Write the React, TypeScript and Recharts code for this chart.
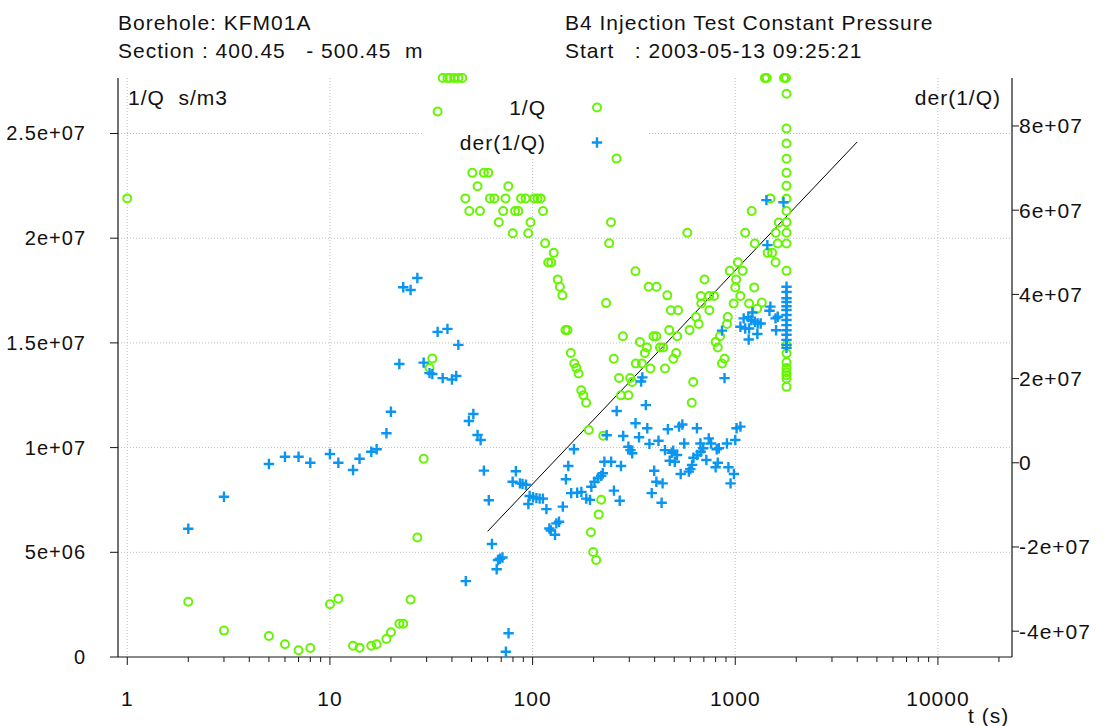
import React from 'react';
import { ComposedChart, Scatter, XAxis, YAxis, CartesianGrid, ReferenceArea, Legend } from 'recharts';

const FONT = '"Liberation Sans", Arial, Helvetica, sans-serif';
const GREEN = '#66F500';
const BLUE = '#0A96F0';
const AXIS = '#151515';
const TEXT = '#111111';

// ---- 1/Q series (time in s, value in millions of s/m3) ----
const invQTime = [
  1, 2, 3, 5, 6, 7, 8, 10, 11, 13,
  14, 16, 17, 19, 20, 22, 23, 25, 27, 29,
  31, 32, 34, 36, 38, 39, 41, 43, 45, 46.6,
  48.7, 50.4, 53.5, 55, 57.5, 60.4, 61.6, 64.7, 68.1, 71.6,
  73.5, 75.9, 79.8, 81.9, 85, 87.7, 92.3, 95.2, 97.7, 101.8,
  105.7, 109.6, 112.6, 115.2, 119.4, 123.6, 127.1, 133.1, 136.3, 140.3,
  145.3, 148.7, 154.4, 160.6, 164.6, 168.5, 173.8, 178, 183.6, 189.4,
  194, 199, 206, 212, 218, 223, 230.6, 238.6, 243.7, 251.5,
  259.6, 267, 273, 279, 297, 303, 310, 321.7, 323, 338.5,
  346, 358, 366.7, 374, 381, 395, 408, 409, 425, 441,
  450, 462, 472, 481, 495, 511, 517, 522, 580, 595,
  610, 620, 640, 660, 676, 680, 705, 743, 745, 786,
  800, 820, 841, 860, 885, 910, 918, 940, 982, 1000,
  1010, 1030, 1060, 1087, 1119, 1170, 1205, 1240, 1249, 1282,
  1351, 1400, 1430, 1445, 1490, 1520, 1580, 1583, 1620, 1640,
  1740, 1780, 1790, 1790, 1790, 1790, 1790, 1790, 1790, 1790,
  1790, 1790, 1790, 1790, 1790, 1790, 1790, 1790, 1790, 1790,
  1790, 1790,
];
const invQValueMillions = [
  21.9, 2.64, 1.26, 1.0, 0.61, 0.32, 0.43, 2.52, 2.78, 0.54,
  0.44, 0.54, 0.61, 0.86, 1.18, 1.59, 1.59, 2.74, 5.71, 9.47,
  13.8, 14.26, 26.05, 27.65, 27.65, 27.65, 27.65, 27.65, 27.65, 21.9,
  21.3, 23.12, 22.48, 21.3, 23.12, 23.12, 21.9, 21.9, 20.76, 21.3,
  21.9, 22.48, 20.24, 21.3, 21.3, 21.9, 21.9, 20.24, 20.76, 21.9,
  21.9, 21.9, 21.3, 19.76, 18.84, 18.84, 19.3, 18.03, 17.68, 17.27,
  15.61, 15.61, 14.52, 14.02, 13.8, 13.54, 12.74, 12.5, 12.14, 10.84,
  5.96, 5.01, 4.63, 6.81, 7.51, 10.57, 16.9, 19.76, 20.76, 14.24,
  23.8, 13.32, 12.5, 15.32, 12.5, 13.32, 13.13, 18.42, 14.02, 15.04,
  14.02, 14.52, 14.78, 17.68, 13.78, 15.32, 15.32, 17.68, 14.78, 14.78,
  13.78, 17.27, 15.61, 16.56, 14.24, 14.52, 15.32, 16.56, 20.26, 15.61,
  12.14, 13.13, 16.24, 15.9, 17.24, 16.88, 18.03, 17.24, 16.56, 17.24,
  15.04, 14.78, 15.32, 14.02, 14.24, 15.9, 16.24, 18.44, 16.88, 17.65,
  18.03, 18.85, 17.24, 18.44, 20.26, 16.88, 21.3, 17.65, 19.75, 16.63,
  16.93, 27.65, 27.65, 19.3, 21.9, 19.3, 18.85, 20.26, 19.75, 20.75,
  27.65, 27.65, 26.9, 25.24, 24.52, 23.79, 23.12, 22.5, 21.88, 21.3,
  20.76, 20.26, 19.75, 18.44, 14.9, 14.5, 14.07, 13.8, 13.6, 13.46,
  13.3, 12.9,
];

// ---- der(1/Q) series (time in s, value in millions) ----
const derTime = [
  2, 3, 5, 6, 7, 8, 10, 11, 13, 14,
  16, 17, 19, 20, 22, 23, 25, 27, 29, 31,
  32, 34, 36, 38, 40, 42, 43, 46.8, 48.5, 51,
  53.5, 55.4, 57.5, 60.8, 63, 66.5, 67.5, 69, 71, 73.8,
  76.1, 79.7, 82.7, 86.6, 89.2, 92.7, 95.3, 96.7, 100.5, 104.4,
  108.3, 112.4, 117, 121, 123, 129, 131, 135, 141, 146,
  150, 155, 160, 166, 174, 184, 192, 195, 202, 210,
  218, 222, 226, 232, 244, 252, 260, 269, 273, 280,
  297, 304, 310, 322, 335, 343, 348, 362, 368, 377,
  387, 398, 408, 418, 433, 438, 450, 465, 475, 486,
  494, 503, 516, 528, 538, 548, 560, 590, 600, 612,
  622, 647, 650, 673, 675, 695, 720, 740, 760, 800,
  810, 820, 830, 860, 885, 910, 925, 948, 985, 1000,
  1015, 1060, 1060, 1100, 1120, 1160, 1165, 1170, 1200, 1215,
  1250, 1285, 1290, 1335, 1425, 1440, 1475, 1490, 1580, 1590,
  1620, 1730, 1790, 1790, 1790, 1790, 1790, 1790, 1790, 1790,
  1790, 1790, 1790, 1790, 1790, 1790,
];
const derValueMillions = [
  -15.65, -8.05, -0.29, 1.45, 1.45, 0.02, 2.09, 0.02, -1.71, 0.97,
  2.64, 3.2, 7.0, 12.14, 23.47, 41.7, 41.05, 43.9, 23.8, 21.3,
  21.1, 31.1, 20.1, 31.8, 19.8, 20.6, 28.0, -28.1, 9.93, 11.6,
  6.6, 5.42, -1.87, -8.9, -19.3, -25.3, -23.1, -22.8, -22.5, -44.9,
  -40.5, -4.5, -2.0, -4.9, -5.0, -5.2, -9.8, -7.9, -8.2, -8.4,
  -8.5, -8.5, -11.0, -15.6, -16.1, -17.1, -14.4, -14.0, -10.4, -3.9,
  -0.76, -7.2, 3.2, -7.1, -6.9, -8.5, -8.8, -5.7, -4.5, -3.7,
  -3.1, -2.5, 0.26, 6.53, 0.26, -6.6, 12.3, -9.0, -0.76, 6.37,
  3.8, 3.0, 2.25, 9.4, 6.05, 19.3, 20.3, 13.7, 8.2, 4.5,
  -7.2, -1.88, -4.5, 5.25, -9.5, -4.9, 3.0, 7.96, 0.5, 2.4,
  2.87, 0.26, 1.85, 8.6, -2.66, 9.1, 4.6, -2.1, -1.5, -0.5,
  1.2, 8.2, 1.85, 4.6, 2.64, 3.45, 0.66, 5.8, 4.6, -1.07,
  3.2, 0.02, 3.45, 31.4, 20.1, 4.6, -1.07, -4.9, -2.66, 5.4,
  8.2, 8.6, 32.3, 34.3, 31.9, 34.6, 29.3, 31.9, 33.9, 35.7,
  33.5, 30.6, 33.1, 33.1, 62.4, 51.7, 36.1, 37.1, 34.3, 31.5,
  34.7, 61.9, 41.8, 40.6, 39.1, 38.2, 37.2, 36.3, 35.1, 33.9,
  32.7, 31.5, 30.4, 29.2, 28.0, 27.3,
];

// ---- straight-line fit (left axis) ----
const fitTime = [60, 4000];
const fitValueMillions = [6.0, 24.6];

// ---- axes ----
const xDomain = [0.9, 23200];
const xMajorTicks = [1, 10, 100, 1000, 10000];
const xMajorLabels = ['1', '10', '100', '1000', '10000'];
const xAllTicks = [
  1, 2, 3, 4, 5, 6, 7, 8, 9,
  10, 20, 30, 40, 50, 60, 70, 80, 90,
  100, 200, 300, 400, 500, 600, 700, 800, 900,
  1000, 2000, 3000, 4000, 5000, 6000, 7000, 8000, 9000,
  10000, 20000,
];
const leftDomain = [0, 2.765e7];
const leftTicks = [0, 5e6, 1e7, 1.5e7, 2e7, 2.5e7];
const leftTickLabels = ['0', '5e+06', '1e+07', '1.5e+07', '2e+07', '2.5e+07'];
const leftGridValues = [5e6, 1e7, 1.5e7, 2e7, 2.5e7];
const rightDomain = [-4.613e7, 9.14e7];
const rightTicks = [-4e7, -2e7, 0, 2e7, 4e7, 6e7, 8e7];
const rightTickLabels = ['-4e+07', '-2e+07', '0', '2e+07', '4e+07', '6e+07', '8e+07'];

// legend panel (white box behind the legend, in data coordinates)
const legendBoxTime = [28.4, 366];
const legendBoxValue = [2.382e7, 2.765e7];

const M = 1e6;
const invQData = invQTime.map((t, i) => ({ x: t, y: invQValueMillions[i] * M }));
const derData = derTime.map((t, i) => ({ x: t, y: derValueMillions[i] * M }));
const fitData = fitTime.map((t, i) => ({ x: t, y: fitValueMillions[i] * M }));

const textStyle = { fontFamily: FONT, fontSize: 20, fill: TEXT, letterSpacing: 1 } as any;
const bigTextStyle = { fontFamily: FONT, fontSize: 21, fill: TEXT, letterSpacing: 1, whiteSpace: 'pre' } as any;

const BottomTick = (props: any) => {
  const { x, y, payload } = props;
  const idx = xMajorTicks.indexOf(payload.value);
  const major = idx >= 0;
  return (
    <g>
      <line x1={x} x2={x} y1={y} y2={y + (major ? 8 : 5)} stroke={AXIS} strokeWidth={1} />
      {major && (
        <text x={x} y={y + 49} textAnchor="middle" style={bigTextStyle}>
          {xMajorLabels[idx]}
        </text>
      )}
    </g>
  );
};

const TopTick = (props: any) => {
  const { x, y, payload } = props;
  const major = xMajorTicks.indexOf(payload.value) >= 0;
  return <line x1={x} x2={x} y1={y} y2={y - (major ? 6 : 5)} stroke={AXIS} strokeWidth={1} />;
};

const LeftTick = (props: any) => {
  const { x, y, payload } = props;
  const idx = leftTicks.indexOf(payload.value);
  return (
    <text x={x} y={y} textAnchor="end" dominantBaseline="central" style={textStyle}>
      {leftTickLabels[idx]}
    </text>
  );
};

const RightTick = (props: any) => {
  const { x, y, payload } = props;
  const idx = rightTicks.indexOf(payload.value);
  return (
    <text x={x} y={y} textAnchor="start" dominantBaseline="central" style={bigTextStyle}>
      {rightTickLabels[idx]}
    </text>
  );
};

const CircleShape = (p: any) => (
  <circle cx={p.cx} cy={p.cy} r={4} fill="none" stroke={GREEN} strokeWidth={2} />
);
const PlusShape = (p: any) => (
  <path
    d={`M${p.cx - 5.2},${p.cy}H${p.cx + 5.2}M${p.cx},${p.cy - 5.2}V${p.cy + 5.2}`}
    stroke={BLUE}
    strokeWidth={2.4}
    fill="none"
  />
);
const NoShape = () => <g />;

const LegendContent = () => (
  <svg width={225} height={80} style={{ display: 'block' }}>
    <text x={124} y={29.5} textAnchor="end" dominantBaseline="central" style={bigTextStyle}>1/Q</text>
    <circle cx={175} cy={29.5} r={4} fill="none" stroke={GREEN} strokeWidth={2} />
    <text x={124} y={64.5} textAnchor="end" dominantBaseline="central" style={bigTextStyle}>der(1/Q)</text>
    <path d="M169.8,64.5H180.2M175,59.3V69.7" stroke={BLUE} strokeWidth={2.4} fill="none" />
  </svg>
);

export default function App() {
  return (
    <div style={{ position: 'absolute', left: 0, top: 0, width: 1110, height: 726, background: '#fff' }}>
      <ComposedChart width={1110} height={726} margin={{ top: 78, right: 0, bottom: 0, left: 0 }}>
        <CartesianGrid
          xAxisId="bottom"
          yAxisId="left"
          verticalValues={xMajorTicks}
          horizontalValues={leftGridValues}
          stroke="#bdbdbd"
          strokeDasharray="1 2"
        />
        <XAxis
          xAxisId="bottom"
          dataKey="x"
          type="number"
          scale="log"
          domain={xDomain}
          ticks={xAllTicks}
          interval={0}
          height={69}
          tickSize={0}
          tickMargin={0}
          tickLine={false}
          axisLine={{ stroke: AXIS, strokeWidth: 1.2 }}
          tick={BottomTick}
        />
        <XAxis
          xAxisId="top"
          orientation="top"
          dataKey="x"
          type="number"
          scale="log"
          domain={xDomain}
          ticks={xAllTicks}
          interval={0}
          height={0}
          tickSize={0}
          tickMargin={0}
          tickLine={false}
          axisLine={{ stroke: AXIS, strokeWidth: 1.2 }}
          tick={TopTick}
        />
        <YAxis
          yAxisId="left"
          orientation="left"
          dataKey="y"
          type="number"
          domain={leftDomain}
          ticks={leftTicks}
          interval={0}
          width={118}
          tickSize={8}
          tickMargin={24}
          tickLine={{ stroke: AXIS }}
          axisLine={{ stroke: AXIS, strokeWidth: 1.2 }}
          tick={LeftTick}
        />
        <YAxis
          yAxisId="right"
          orientation="right"
          dataKey="y"
          type="number"
          domain={rightDomain}
          ticks={rightTicks}
          interval={0}
          width={98}
          tickSize={7}
          tickMargin={0}
          tickLine={{ stroke: AXIS }}
          axisLine={{ stroke: AXIS, strokeWidth: 1.2 }}
          tick={RightTick}
        />
        <ReferenceArea
          xAxisId="bottom"
          yAxisId="left"
          x1={legendBoxTime[0]}
          x2={legendBoxTime[1]}
          y1={legendBoxValue[0]}
          y2={legendBoxValue[1]}
          fill="#ffffff"
          fillOpacity={1}
          stroke="none"
          ifOverflow="visible"
        />
        <Scatter
          name="fit"
          data={fitData}
          xAxisId="bottom"
          yAxisId="left"
          line={{ stroke: '#000', strokeWidth: 1 }}
          shape={NoShape}
          legendType="none"
          isAnimationActive={false}
        />
        <Scatter
          name="1/Q"
          data={invQData}
          xAxisId="bottom"
          yAxisId="left"
          shape={CircleShape}
          isAnimationActive={false}
        />
        <Scatter
          name="der(1/Q)"
          data={derData}
          xAxisId="bottom"
          yAxisId="right"
          shape={PlusShape}
          isAnimationActive={false}
        />
        <Legend
          layout="horizontal"
          verticalAlign="middle"
          align="center"
          content={LegendContent}
          wrapperStyle={{ left: 422, top: 78, width: 225, height: 80 }}
        />
      </ComposedChart>
      <svg
        width={1110}
        height={726}
        style={{ position: 'absolute', left: 0, top: 0, pointerEvents: 'none' }}
      >
        <text x={118} y={30} style={bigTextStyle}>Borehole: KFM01A</text>
        <text x={118} y={58} style={bigTextStyle}>{'Section : 400.45   - 500.45  m'}</text>
        <text x={565} y={30} style={bigTextStyle}>B4 Injection Test Constant Pressure</text>
        <text x={565} y={58} style={bigTextStyle}>{'Start   : 2003-05-13 09:25:21'}</text>
        <text x={128} y={105} style={bigTextStyle}>{'1/Q  s/m3'}</text>
        <text x={1001} y={105} textAnchor="end" style={bigTextStyle}>der(1/Q)</text>
        <text x={968} y={723} style={bigTextStyle}>t (s)</text>
      </svg>
    </div>
  );
}
